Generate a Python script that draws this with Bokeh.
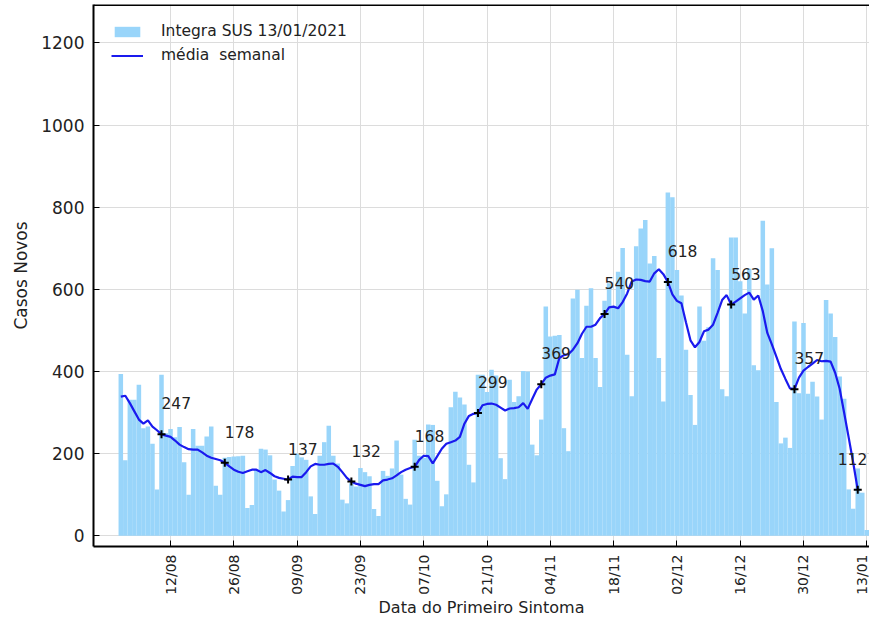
import math
import pandas as pd
from bokeh.plotting import figure
from bokeh.models import (ColumnDataSource, Range1d, FixedTicker, DatetimeTickFormatter,
                          Span, LabelSet)
from bokeh.core.properties import value
from bokeh.embed import file_html
from bokeh.resources import INLINE

# ---------------- data ----------------
start_date = "2020-08-01"

casos = [
    394, 184, 331, 331, 368, 262, 266, 224, 113, 392,
    250, 260, 240, 265, 179, 100, 260, 219, 219, 242,
    266, 122, 100, 190, 192, 193, 194, 195, 68, 75,
    160, 212, 210, 196, 137, 110, 59, 87, 170, 200,
    191, 185, 96, 53, 195, 228, 268, 195, 176, 88,
    79, 128, 120, 165, 155, 145, 65, 48, 158, 146,
    164, 232, 149, 90, 76, 234, 195, 190, 271, 270,
    134, 72, 101, 313, 351, 337, 320, 173, 130, 392,
    392, 350, 404, 390, 189, 138, 380, 326, 340, 401,
    400, 222, 196, 283, 558, 485, 487, 489, 262, 206,
    578, 599, 433, 560, 603, 433, 362, 572, 615, 555,
    643, 701, 441, 340, 705, 748, 769, 663, 681, 433,
    327, 836, 824, 647, 585, 453, 343, 270, 558, 475,
    508, 676, 647, 357, 340, 726, 726, 620, 541, 650,
    415, 403, 767, 612, 700, 326, 225, 239, 214, 522,
    347, 518, 346, 375, 339, 283, 574, 541, 484, 388,
    334, 113, 66, 164, 105, 14,
]

media_semanal = [
    339, 341, 323, 303, 283, 273, 281, 266, 257, 247,
    244, 241, 232, 222, 216, 211, 210, 210, 203, 195,
    190, 187, 184, 178, 169, 161, 156, 153, 157, 161,
    161, 155, 160, 153, 145, 141, 139, 137, 144, 143,
    143, 155, 169, 175, 173, 173, 175, 176, 168, 155,
    141, 132, 127, 124, 121, 124, 126, 126, 135, 137,
    140, 147, 155, 161, 165, 168, 185, 195, 194, 176,
    194, 212, 224, 228, 232, 241, 273, 292, 297, 299,
    318, 321, 322, 319, 312, 305, 310, 311, 313, 323,
    309, 333, 356, 369, 385, 390, 393, 433, 440, 442,
    453, 469, 492, 509, 509, 514, 530, 540, 556, 558,
    554, 569, 590, 619, 624, 623, 620, 619, 639, 649,
    637, 618, 588, 572, 566, 520, 476, 459, 472, 498,
    502, 514, 543, 574, 586, 563, 570, 578, 586, 592,
    575, 585, 547, 494, 466, 436, 406, 382, 359, 357,
    385, 402, 411, 419, 428, 425, 426, 424, 397, 358,
    299, 239, 178, 112,
]

marcos_datas = ["2020-08-10", "2020-08-24", "2020-09-07", "2020-09-21",
                "2020-10-05", "2020-10-19", "2020-11-02", "2020-11-16",
                "2020-11-30", "2020-12-14", "2020-12-28", "2021-01-11"]
marcos_valores = [247, 178, 137, 132, 168, 299, 369, 540, 618, 563, 357, 112]

tick_datas = ["2020-08-12", "2020-08-26", "2020-09-09", "2020-09-23",
              "2020-10-07", "2020-10-21", "2020-11-04", "2020-11-18",
              "2020-12-02", "2020-12-16", "2020-12-30", "2021-01-13"]
tick_labels = ["12/08", "26/08", "09/09", "23/09", "07/10", "21/10",
               "04/11", "18/11", "02/12", "16/12", "30/12", "13/01"]
y_ticks = [0, 200, 400, 600, 800, 1000, 1200]

# ---------------- sources ----------------
FONT = "DejaVu Sans"
DAY_MS = 86400000

dias = pd.date_range(start_date, periods=len(casos), freq="D")
dias_media = pd.date_range(start_date, periods=len(media_semanal), freq="D")

# last annotation is nudged left so that it stays inside the picture
label_dx = [0] * (len(marcos_valores) - 1) + [-20]

src_bar = ColumnDataSource(dict(x=dias, y=casos))
src_line = ColumnDataSource(dict(x=dias_media, y=media_semanal))
src_mark = ColumnDataSource(dict(x=pd.to_datetime(marcos_datas), y=marcos_valores,
                                 txt=[str(v) for v in marcos_valores], dx=label_dx))

epoch = pd.Timestamp("1970-01-01")
tick_ms = [(pd.Timestamp(d) - epoch) // pd.Timedelta("1ms") for d in tick_datas]
overrides = {t: lab for t, lab in zip(tick_ms, tick_labels)}

x_start = dias[0] - pd.Timedelta(days=6.04)
x_end = dias[-1] + pd.Timedelta(days=0.6)

p = figure(width=869, height=619, x_axis_type="datetime",
           output_backend="svg", toolbar_location=None,
           x_range=Range1d(x_start, x_end), y_range=Range1d(-26.0, 1293.5),
           min_border_left=93, min_border_right=0, min_border_top=4,
           min_border_bottom=69)

p.outline_line_color = None
p.background_fill_color = "white"

p.vbar(x="x", top="y", width=DAY_MS, source=src_bar, fill_color="#99d5fa",
       line_color=None, legend_label="Integra SUS 13/01/2021")
p.line(x="x", y="y", source=src_line, line_color="#1a1aee", line_width=2.2,
       legend_label="média  semanal")
p.scatter(x="x", y="y", source=src_mark, marker="cross", size=8,
          line_color="black", line_width=2)

labels = LabelSet(x="x", y="y", text="txt", source=src_mark, x_offset="dx", y_offset=25,
                  text_font=value(FONT), text_font_size="15.5px",
                  text_color="#222222", text_baseline="alphabetic")
p.add_layout(labels)

# top spine
p.add_layout(Span(location=1292, dimension="width", line_color="black", line_width=2))

# x axis
xa = p.xaxis[0]
xa.ticker = FixedTicker(ticks=tick_ms)
xa.formatter = DatetimeTickFormatter(days="%d/%m", months="%d/%m", years="%d/%m",
                                     hours="%d/%m", minutes="%d/%m", hourmin="%d/%m",
                                     seconds="%d/%m", minsec="%d/%m",
                                     milliseconds="%d/%m", microseconds="%d/%m")
xa.major_label_overrides = overrides
xa.major_label_orientation = math.pi / 2
xa.major_label_text_font = FONT
xa.major_label_text_font_size = "14px"
xa.major_label_text_color = "#222222"
xa.major_label_standoff = 8
xa.axis_label = "Data do Primeiro Sintoma"
xa.axis_label_text_font = FONT
xa.axis_label_text_font_size = "16px"
xa.axis_label_text_font_style = "normal"
xa.axis_label_text_color = "#222222"
xa.axis_label_standoff = 0

# y axis
ya = p.yaxis[0]
ya.ticker = FixedTicker(ticks=y_ticks)
ya.major_label_text_font = FONT
ya.major_label_text_font_size = "17px"
ya.major_label_text_color = "#222222"
ya.major_label_standoff = 9
ya.axis_label = "Casos Novos"
ya.axis_label_text_font = FONT
ya.axis_label_text_font_size = "17px"
ya.axis_label_text_font_style = "normal"
ya.axis_label_text_color = "#222222"
ya.axis_label_standoff = 7

for ax in (xa, ya):
    ax.axis_line_color = "black"
    ax.axis_line_width = 2
    ax.major_tick_in = 6
    ax.major_tick_out = 0
    ax.major_tick_line_color = "black"
    ax.minor_tick_line_color = None

p.xgrid.grid_line_color = "#dcdcdc"
p.ygrid.grid_line_color = "#dcdcdc"
p.xgrid.ticker = FixedTicker(ticks=tick_ms)
p.ygrid.ticker = FixedTicker(ticks=y_ticks)

lg = p.legend[0]
lg.location = "top_left"
lg.margin = 8
lg.padding = 10
lg.background_fill_alpha = 0
lg.border_line_alpha = 0
lg.glyph_width = 32
lg.glyph_height = 13
lg.label_standoff = 18
lg.spacing = 6
lg.label_text_font = FONT
lg.label_text_font_size = "15.5px"
lg.label_text_color = "#222222"

open("out.html", "w").write(file_html(p, INLINE))
